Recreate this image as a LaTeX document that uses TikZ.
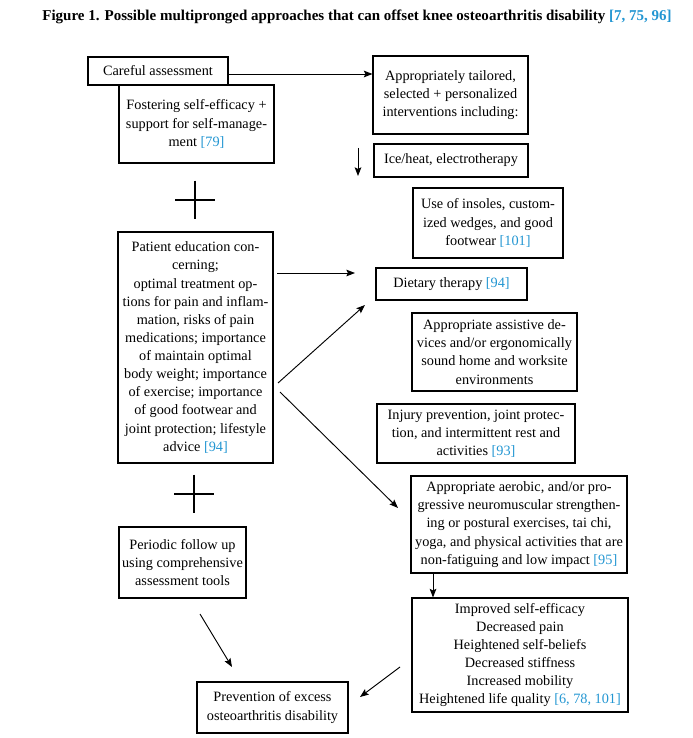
\documentclass[tikz,border=0pt]{standalone}
\usepackage{fontspec}
\setmainfont{Liberation Serif}
\usetikzlibrary{arrows.meta}
\definecolor{refblue}{RGB}{35,150,210}
\newcommand{\rf}[1]{\textcolor{refblue}{[#1]}}
\begin{document}
\begin{tikzpicture}[x=0.75pt,y=-0.75pt,
  box/.style={draw,line width=0.8pt,rectangle,inner sep=0pt,align=center,
    font=\fontsize{10.7pt}{13.6pt}\selectfont},
  arr/.style={-{Stealth[length=6.5pt,width=5pt,inset=1.2pt]},line width=0.7pt},
  plusline/.style={line width=1.3pt}]
\useasboundingbox (0,0) rectangle (692,738);
\node[inner sep=0pt] (title) at (357,17) {\resizebox{472pt}{!}{\bfseries Figure 1. Possible multipronged approaches that can offset knee osteoarthritis disability \rf{7, 75, 96}}};
\node[box,minimum width=105pt,minimum height=21pt] (A) at (158,71) {Careful assessment};
\node[box,minimum width=116.25pt,minimum height=58.5pt] (B) at (196.5,124) {Fostering self-efficacy +\\support for self-manage-\\ment \rf{79}};
\node[box,minimum width=116.25pt,minimum height=58.5pt] (C) at (450.5,95) {Appropriately tailored,\\selected + personalized\\interventions including:};
\node[box,minimum width=115.5pt,minimum height=24.75pt] (D) at (451,160.5) {Ice/heat, electrotherapy};
\node[box,minimum width=112.5pt,minimum height=52.5pt] (E) at (488,223) {Use of insoles, custom-\\ized wedges, and good\\footwear \rf{101}};
\node[box,minimum width=116.25pt,minimum height=173.25pt] (F) at (195.5,347.5) {Patient education con-\\cerning;\\optimal treatment op-\\tions for pain and inflam-\\mation, risks of pain\\medications; importance\\of maintain optimal\\body weight; importance\\of exercise; importance\\of good footwear and\\joint protection; lifestyle\\advice \rf{94}};
\node[box,minimum width=113.25pt,minimum height=24pt] (G) at (451.5,284) {Dietary therapy \rf{94}};
\node[box,minimum width=123.75pt,minimum height=58.5pt] (H) at (494.5,352) {Appropriate assistive de-\\vices and/or ergonomically\\sound home and worksite\\environments};
\node[box,minimum width=148.5pt,minimum height=44.25pt] (I) at (476,433.5) {Injury prevention, joint protec-\\tion, and intermittent rest and\\activities \rf{93}};
\node[box,minimum width=162pt,minimum height=72.75pt] (J) at (519,524.5) {Appropriate aerobic, and/or pro-\\gressive neuromuscular strengthen-\\ing or postural exercises, tai chi,\\yoga, and physical activities that are\\non-fatiguing and low impact \rf{95}};
\node[box,minimum width=162pt,minimum height=85.5pt] (K) at (520,655) {Improved self-efficacy\\Decreased pain\\Heightened self-beliefs\\Decreased stiffness\\Increased mobility\\Heightened life quality \rf{6, 78, 101}};
\node[box,minimum width=95.25pt,minimum height=53.25pt] (L) at (182.5,562.5) {Periodic follow up\\using comprehensive\\assessment tools};
\node[box,minimum width=113.25pt,minimum height=38.25pt] (M) at (272.5,707.5) {Prevention of excess\\osteoarthritis disability};
% free-end coordinates
\coordinate (a1s) at (228,74);
\coordinate (a2s) at (358,148);
\coordinate (a2e) at (358,176);
\coordinate (a3s) at (277,273);
\coordinate (a3e) at (355,273);
\coordinate (a4s) at (278,383);
\coordinate (a4e) at (365,305);
\coordinate (a5s) at (280,392);
\coordinate (a5e) at (398,508);
\coordinate (a6s) at (433,573);
\coordinate (a7s) at (200,614);
\coordinate (a7e) at (232,667);
\coordinate (a8s) at (400,667);
\coordinate (a8e) at (360,697);
\draw[arr] (a1s) -- (a1s -| C.west);
\draw[arr] (a2s) -- (a2e);
\draw[arr] (a3s) -- (a3e);
\draw[arr] (a4s) -- (a4e);
\draw[arr] (a5s) -- (a5e);
\draw[arr] (a6s |- J.south) -- (a6s |- K.north);
\draw[arr] (a7s) -- (a7e);
\draw[arr] (a8s) -- (a8e);
% plus signs
\coordinate (p1) at (195,200);
\coordinate (p2) at (194,494);
\draw[plusline] ([xshift=-15pt]p1) -- ([xshift=15pt]p1);
\draw[plusline] ([yshift=14.5pt]p1) -- ([yshift=-14.5pt]p1);
\draw[plusline] ([xshift=-15pt]p2) -- ([xshift=15pt]p2);
\draw[plusline] ([yshift=14.5pt]p2) -- ([yshift=-14.5pt]p2);
\end{tikzpicture}
\end{document}
